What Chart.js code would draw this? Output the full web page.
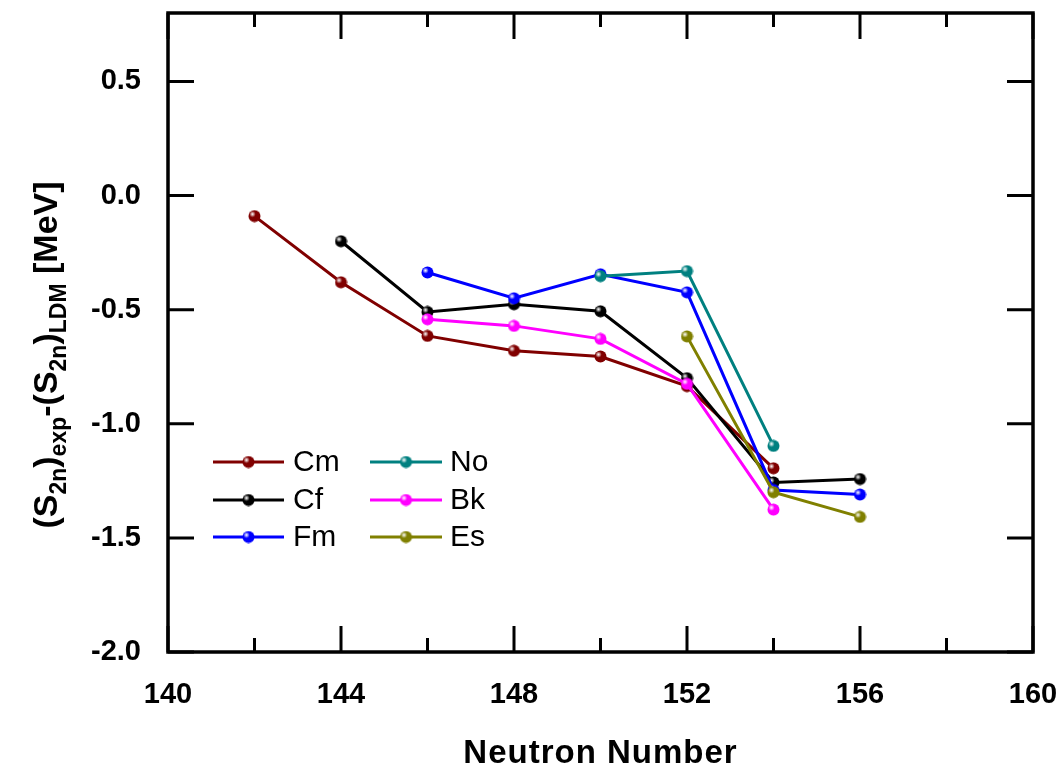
<!DOCTYPE html>
<html>
<head>
<meta charset="utf-8">
<script src="https://cdn.jsdelivr.net/npm/chart.js@4"></script>
<style>
  html, body { margin: 0; padding: 0; background: #ffffff; }
  canvas { display: block; }
</style>
</head>
<body>
<canvas id="c" width="1061" height="767"></canvas>
<script>
// ---- data ----
const seriesNames = ['Cm', 'Cf', 'Fm', 'No', 'Bk', 'Es'];
const neutronCm = [142, 144, 146, 148, 150, 152, 154];
const valueCm   = [-0.09, -0.38, -0.615, -0.68, -0.705, -0.835, -1.195];
const neutronCf = [144, 146, 148, 150, 152, 154, 156];
const valueCf   = [-0.20, -0.51, -0.476, -0.507, -0.80, -1.257, -1.242];
const neutronFm = [146, 148, 150, 152, 154, 156];
const valueFm   = [-0.337, -0.45, -0.345, -0.424, -1.29, -1.31];
const neutronNo = [150, 152, 154];
const valueNo   = [-0.353, -0.331, -1.097];
const neutronBk = [146, 148, 150, 152, 154];
const valueBk   = [-0.542, -0.571, -0.628, -0.825, -1.376];
const neutronEs = [152, 154, 156];
const valueEs   = [-0.617, -1.30, -1.408];
const xTickValues = [140, 144, 148, 152, 156, 160];
const yTickValues = [-2.0, -1.5, -1.0, -0.5, 0.0, 0.5];

const seriesColors = ['#800000', '#000000', '#0000ff', '#008080', '#ff00ff', '#808000'];
const seriesX = [neutronCm, neutronCf, neutronFm, neutronNo, neutronBk, neutronEs];
const seriesY = [valueCm, valueCf, valueFm, valueNo, valueBk, valueEs];

function ballImage(color) {
  const r = 6;
  const c = document.createElement('canvas');
  c.width = c.height = 2 * r + 1;
  const g = c.getContext('2d');
  g.beginPath();
  g.arc(r + 0.5, r + 0.5, r, 0, Math.PI * 2);
  g.fillStyle = color;
  g.fill();
  const grad = g.createRadialGradient(r - 1.5, r - 1.5, 0.3, r - 1.5, r - 1.5, 3.2);
  grad.addColorStop(0, 'rgba(255,255,255,0.95)');
  grad.addColorStop(1, 'rgba(255,255,255,0)');
  g.beginPath();
  g.arc(r + 0.5, r + 0.5, r, 0, Math.PI * 2);
  g.fillStyle = grad;
  g.fill();
  return c;
}

const datasets = seriesNames.map((name, i) => ({
  label: name,
  data: seriesX[i].map((x, k) => ({ x: x, y: seriesY[i][k] })),
  borderColor: seriesColors[i],
  backgroundColor: seriesColors[i],
  borderWidth: 3,
  showLine: true,
  pointStyle: ballImage(seriesColors[i]),
  pointRadius: 6,
  order: seriesNames.length - i
}));

// ---- plugins ----
const framePlugin = {
  id: 'frame',
  afterDatasetsDraw(chart) {
    const { ctx, chartArea: a, scales } = chart;
    ctx.save();
    ctx.strokeStyle = '#000';
    ctx.lineWidth = 3.5;
    ctx.strokeRect(a.left, a.top, a.right - a.left, a.bottom - a.top);
    ctx.lineWidth = 3;
    ctx.lineCap = 'butt';
    for (let v = 140; v <= 160; v += 2) {
      const px = scales.x.getPixelForValue(v);
      const len = (v % 4 === 0) ? 26 : 14;
      ctx.beginPath();
      ctx.moveTo(px, a.bottom); ctx.lineTo(px, a.bottom - len);
      ctx.moveTo(px, a.top); ctx.lineTo(px, a.top + len);
      ctx.stroke();
    }
    yTickValues.forEach(v => {
      const py = scales.y.getPixelForValue(v);
      ctx.beginPath();
      ctx.moveTo(a.left, py); ctx.lineTo(a.left + 26, py);
      ctx.moveTo(a.right, py); ctx.lineTo(a.right - 26, py);
      ctx.stroke();
    });
    ctx.restore();
  }
};

const legendPlugin = {
  id: 'customLegend',
  afterDatasetsDraw(chart) {
    const { ctx } = chart;
    const cols = [{ x0: 213, x1: 284, tx: 293 }, { x0: 370, x1: 442, tx: 450 }];
    const rows = [462, 500, 537];
    ctx.save();
    ctx.font = '30px "Liberation Sans", Arial, sans-serif';
    ctx.textBaseline = 'middle';
    chart.data.datasets.forEach((ds, i) => {
      const col = cols[Math.floor(i / 3)];
      const y = rows[i % 3];
      ctx.strokeStyle = ds.borderColor;
      ctx.lineWidth = 3;
      ctx.beginPath();
      ctx.moveTo(col.x0, y); ctx.lineTo(col.x1, y);
      ctx.stroke();
      const img = ds.pointStyle;
      ctx.drawImage(img, (col.x0 + col.x1) / 2 - img.width / 2, y - img.height / 2);
      ctx.fillStyle = '#000';
      ctx.fillText(ds.label, col.tx, y + 1);
    });
    ctx.restore();
  }
};

const titlesPlugin = {
  id: 'titles',
  afterDraw(chart) {
    const { ctx, chartArea: a } = chart;
    ctx.save();
    ctx.fillStyle = '#000';
    ctx.font = 'bold 33px "Liberation Sans", Arial, sans-serif';
    try { ctx.letterSpacing = '1px'; } catch (e) {}
    ctx.textAlign = 'center';
    ctx.textBaseline = 'alphabetic';
    ctx.fillText('Neutron Number', (a.left + a.right) / 2, 763);
    try { ctx.letterSpacing = '0px'; } catch (e) {}
    const big = 'bold 34px "Liberation Sans", Arial, sans-serif';
    const sub = 'bold 23px "Liberation Sans", Arial, sans-serif';
    const segs = [['(S', 0], ['2n', 1], [')', 0], ['exp', 1], ['-(S', 0], ['2n', 1], [')', 0], ['LDM', 1], [' [MeV]', 0]];
    let total = 0;
    segs.forEach(s => { ctx.font = s[1] ? sub : big; total += ctx.measureText(s[0]).width; });
    ctx.translate(57, 355);
    ctx.rotate(-Math.PI / 2);
    ctx.textAlign = 'left';
    let x = -total / 2;
    segs.forEach(s => {
      ctx.font = s[1] ? sub : big;
      ctx.fillText(s[0], x, s[1] ? 9 : 0);
      x += ctx.measureText(s[0]).width;
    });
    ctx.restore();
  }
};

new Chart(document.getElementById('c'), {
  type: 'scatter',
  data: { datasets: datasets },
  options: {
    responsive: false,
    animation: false,
    events: [],
    layout: { padding: { top: 13, right: 28, left: 0, bottom: 0 } },
    plugins: { legend: { display: false }, tooltip: { enabled: false } },
    scales: {
      x: {
        type: 'linear', min: 140, max: 160,
        afterBuildTicks: s => { s.ticks = xTickValues.map(v => ({ value: v })); },
        afterFit: s => { s.height = 115; s.paddingLeft = 0; s.paddingRight = 0; s.paddingTop = 0; s.paddingBottom = 0; },
        grid: { display: false, drawTicks: false },
        border: { display: false },
        ticks: {
          color: '#000', padding: 26, maxRotation: 0, autoSkip: false,
          font: { family: '"Liberation Sans", Arial, sans-serif', size: 29, weight: 'bold' },
          callback: v => String(v)
        }
      },
      y: {
        type: 'linear', min: -2.0, max: 0.8,
        afterBuildTicks: s => { s.ticks = yTickValues.map(v => ({ value: v })); },
        afterFit: s => { s.width = 168; s.paddingLeft = 0; s.paddingRight = 0; s.paddingTop = 0; s.paddingBottom = 0; },
        grid: { display: false, drawTicks: false },
        border: { display: false },
        ticks: {
          color: '#000', padding: 27, autoSkip: false,
          font: { family: '"Liberation Sans", Arial, sans-serif', size: 29, weight: 'bold' },
          callback: v => Number(v).toFixed(1)
        }
      }
    }
  },
  plugins: [framePlugin, legendPlugin, titlesPlugin]
});
</script>
</body>
</html>
